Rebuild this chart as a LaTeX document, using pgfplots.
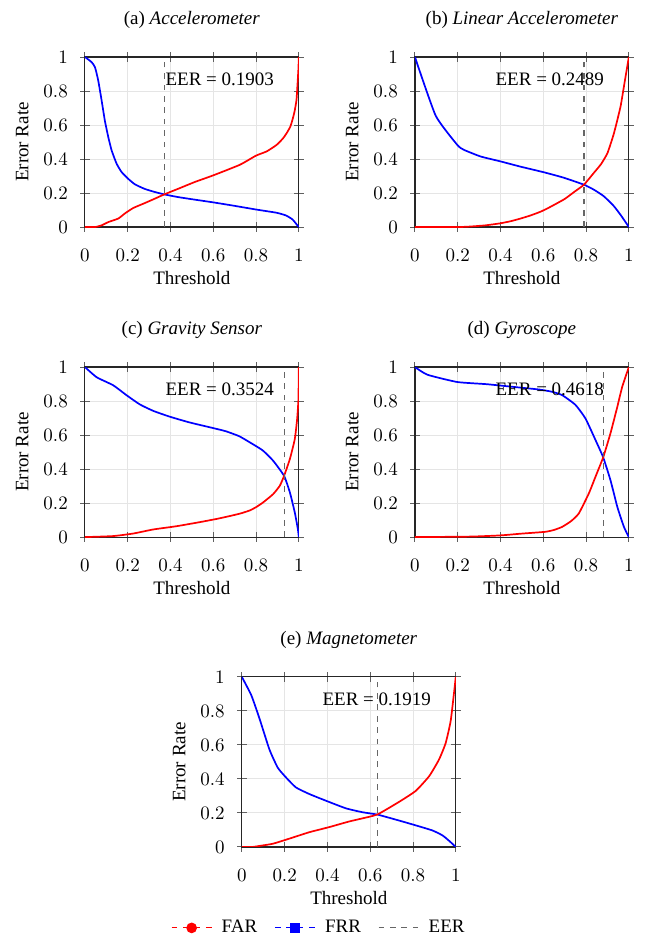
\documentclass[border=0pt]{standalone}
\usepackage{fontspec}
\setmainfont{Liberation Serif}
\usepackage{pgfplots}
\pgfplotsset{compat=1.18}
\pgfplotsset{
  errstyle/.style={
    width=112.6pt, height=89.5pt, scale only axis,
    xmin=0,xmax=1,ymin=0,ymax=1,
    xtick={0,0.2,0.4,0.6,0.8,1}, ytick={0,0.2,0.4,0.6,0.8,1},
    grid=major, grid style={gray!20, line width=0.5pt},
    tick align=center, major tick length=5pt, major tick style={gray!75!black, line width=0.5pt},
    axis line style={black!85, line width=0.6pt},
    xticklabel style={yshift=-5.5pt},
    yticklabel style={xshift=-3pt},
    xlabel=Threshold, ylabel=Error Rate,
    every axis x label/.style={at={(axis description cs:0.5,-0.30)}, anchor=center},
    every axis y label/.style={at={(axis description cs:-0.293,0.5)}, rotate=90, anchor=center},
    every axis title/.style={at={(axis description cs:0.5,1.218)}, anchor=center},
  },
  farp/.style={red, line width=0.9pt, no marks, smooth, tension=0.3},
  frrp/.style={blue, line width=0.9pt, no marks, smooth, tension=0.3},
  eerp/.style={gray!80!black, dashed, line width=0.6pt},
}
\begin{document}
\begin{tikzpicture}
\useasboundingbox (-44.7pt,-465.3pt) rectangle (294.7pt,30pt);
% (a)
\begin{axis}[errstyle, at={(0pt,0pt)}, anchor=north west, title={(a) \textit{Accelerometer}}]
\addplot[frrp] coordinates {(0,1) (0.031,0.97) (0.047,0.94) (0.062,0.863) (0.078,0.745) (0.093,0.627) (0.109,0.53) (0.125,0.45) (0.148,0.373) (0.171,0.324) (0.202,0.284) (0.234,0.251) (0.28,0.224) (0.327,0.206) (0.371,0.192) (0.436,0.176) (0.514,0.161) (0.60,0.145) (0.693,0.126) (0.80,0.103) (0.896,0.084) (0.94,0.068) (0.97,0.045) (0.99,0.015) (1,0)};
\addplot[farp] coordinates {(0,0) (0.047,0) (0.078,0.01) (0.109,0.029) (0.156,0.05) (0.187,0.08) (0.226,0.112) (0.28,0.141) (0.327,0.167) (0.371,0.192) (0.436,0.225) (0.514,0.265) (0.60,0.304) (0.724,0.366) (0.80,0.42) (0.85,0.445) (0.896,0.483) (0.925,0.52) (0.942,0.55) (0.96,0.59) (0.97,0.63) (0.98,0.68) (0.989,0.747) (0.994,0.844) (0.998,0.93) (1,1)};
\addplot[eerp] coordinates {(0.372,0) (0.372,1)};
\node[anchor=east] at (rel axis cs:0.915,0.87) {EER = 0.1903};
\end{axis}
% (b)
\begin{axis}[errstyle, at={(173.7pt,0pt)}, anchor=north west, title={(b) \textit{Linear Accelerometer}}]
\addplot[frrp] coordinates {(0,1) (0.097,0.655) (0.198,0.483) (0.229,0.454) (0.307,0.415) (0.40,0.386) (0.494,0.355) (0.603,0.322) (0.696,0.29) (0.79,0.249) (0.836,0.22) (0.883,0.181) (0.93,0.123) (0.965,0.065) (1,0)};
\addplot[farp] coordinates {(0,0) (0.2,0) (0.26,0.003) (0.33,0.01) (0.40,0.022) (0.45,0.035) (0.494,0.05) (0.54,0.068) (0.587,0.09) (0.62,0.11) (0.65,0.13) (0.70,0.165) (0.743,0.205) (0.79,0.249) (0.836,0.318) (0.87,0.37) (0.90,0.435) (0.93,0.55) (0.961,0.708) (0.98,0.85) (1,1)};
\addplot[eerp] coordinates {(0.79,0) (0.79,1)};
\node[anchor=east] at (rel axis cs:0.915,0.87) {EER = 0.2489};
\end{axis}
% (c)
\begin{axis}[errstyle, at={(0pt,-163.2pt)}, anchor=north west, title={(c) \textit{Gravity Sensor}}]
\addplot[frrp] coordinates {(0,1) (0.055,0.94) (0.132,0.893) (0.195,0.834) (0.257,0.78) (0.32,0.742) (0.397,0.708) (0.49,0.674) (0.60,0.641) (0.66,0.622) (0.72,0.594) (0.755,0.569) (0.80,0.535) (0.833,0.508) (0.88,0.449) (0.931,0.36) (0.958,0.263) (0.981,0.145) (0.995,0.05) (1,0)};
\addplot[farp] coordinates {(0,0) (0.132,0.006) (0.226,0.021) (0.32,0.045) (0.428,0.064) (0.537,0.088) (0.62,0.108) (0.678,0.124) (0.73,0.14) (0.771,0.157) (0.80,0.176) (0.833,0.204) (0.88,0.253) (0.911,0.302) (0.931,0.36) (0.958,0.459) (0.981,0.576) (0.992,0.694) (0.998,0.81) (1,1)};
\addplot[eerp] coordinates {(0.931,0) (0.931,1)};
\node[anchor=east] at (rel axis cs:0.915,0.87) {EER = 0.3524};
\end{axis}
% (d)
\begin{axis}[errstyle, at={(173.7pt,-163.2pt)}, anchor=north west, title={(d) \textit{Gyroscope}}]
\addplot[frrp] coordinates {(0,1) (0.058,0.955) (0.198,0.912) (0.338,0.899) (0.494,0.879) (0.58,0.868) (0.64,0.855) (0.688,0.835) (0.75,0.778) (0.797,0.698) (0.844,0.571) (0.88,0.469) (0.914,0.335) (0.946,0.178) (0.977,0.06) (1,0)};
\addplot[farp] coordinates {(0,0) (0.26,0.003) (0.40,0.01) (0.494,0.02) (0.609,0.031) (0.65,0.042) (0.688,0.06) (0.73,0.094) (0.766,0.139) (0.813,0.257) (0.844,0.355) (0.88,0.469) (0.914,0.61) (0.946,0.766) (0.969,0.884) (1,1)};
\addplot[eerp] coordinates {(0.88,0) (0.88,1)};
\node[anchor=east] at (rel axis cs:0.915,0.87) {EER = 0.4618};
\end{axis}
% (e)
\begin{axis}[errstyle, at={(82.6pt,-326.3pt)}, anchor=north west, title={(e) \textit{Magnetometer}},
  legend style={at={(0.364,-0.476)}, anchor=center, draw=none, fill=none, legend columns=3,
    /tikz/every even column/.append style={column sep=7pt},
    /tikz/every odd column/.append style={column sep=3pt}},
  legend image code/.code={\draw[mark repeat=2, mark phase=2, #1] plot coordinates {(0cm,0cm) (0.37cm,0cm) (0.74cm,0cm)};},
  legend cell align=left]
\addlegendimage{red, dashed, line width=0.6pt, mark=*, mark size=2.5pt, mark options={solid, fill=red}}
\addlegendentry{FAR}
\addlegendimage{blue, dashed, line width=0.6pt, mark=square*, mark size=2.3pt, mark options={solid, fill=blue}}
\addlegendentry{FRR}
\addlegendimage{gray!80!black, dashed, line width=0.6pt}
\addlegendentry{EER}
\addplot[frrp, forget plot] coordinates {(0,1) (0.044,0.893) (0.082,0.757) (0.129,0.573) (0.168,0.466) (0.207,0.408) (0.253,0.35) (0.316,0.311) (0.393,0.272) (0.487,0.227) (0.565,0.204) (0.635,0.19) (0.736,0.155) (0.813,0.127) (0.891,0.097) (0.938,0.068) (0.97,0.035) (1,0)};
\addplot[farp, forget plot] coordinates {(0,0) (0.05,0) (0.082,0.006) (0.145,0.019) (0.222,0.049) (0.316,0.087) (0.409,0.117) (0.502,0.15) (0.57,0.17) (0.635,0.192) (0.736,0.266) (0.813,0.33) (0.876,0.417) (0.922,0.515) (0.953,0.612) (0.977,0.748) (1,1)};
\addplot[eerp, forget plot] coordinates {(0.635,0) (0.635,1)};
\node[anchor=east] at (rel axis cs:0.915,0.87) {EER = 0.1919};
\end{axis}
\end{tikzpicture}
\end{document}
